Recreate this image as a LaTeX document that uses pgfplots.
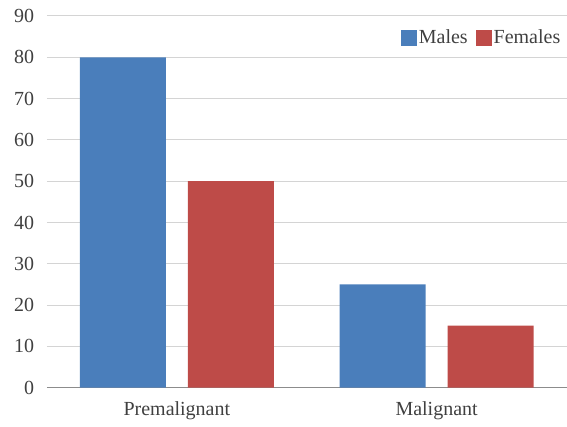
\documentclass[border=0pt]{standalone}
\usepackage{fontspec}
\setmainfont{Liberation Serif}
\usepackage{pgfplots}
\pgfplotsset{compat=1.18}
\definecolor{mblue}{HTML}{4A7EBB}
\definecolor{mred}{HTML}{BE4B48}
\begin{document}
\fontsize{20}{23}\selectfont
\begin{tikzpicture}
\begin{axis}[
    scale only axis,
    width=520pt, height=372pt,
    ymin=0, ymax=90, ytick={0,10,...,90},
    xmin=-0.5, xmax=1.5, xtick={0,1},
    xticklabels={Premalignant,Malignant},
    ybar=22pt, bar width=86pt,
    axis x line*=bottom, axis y line*=left,
    y axis line style={draw=none},
    x axis line style={draw=black!45, line width=1pt, -},
    major tick length=0pt,
    ymajorgrids, grid style={draw=black!17, line width=1pt},
    tick label style={text=black!75, font=\fontsize{20}{23}\selectfont},
    /pgf/number format/assume math mode=true,
    yticklabel style={xshift=-6pt},
    xticklabel style={yshift=-7pt},
    legend style={draw=none, fill=none, at={(0.998,0.975)}, anchor=north east,
        legend columns=2, font=\fontsize{20}{23}\selectfont, text=black!75,
        /tikz/every even column/.append style={column sep=6pt}},
    legend image code/.code={\fill[#1] (-2pt,-8pt) rectangle (14pt,8pt);},
]
\addplot[fill=mblue, draw=none] coordinates {(0,80) (1,25)};
\addplot[fill=mred, draw=none] coordinates {(0,50) (1,15)};
\legend{Males,Females}
\end{axis}
\path[use as bounding box] (-47pt,-35pt) rectangle (520pt,388pt);
\end{tikzpicture}
\end{document}
